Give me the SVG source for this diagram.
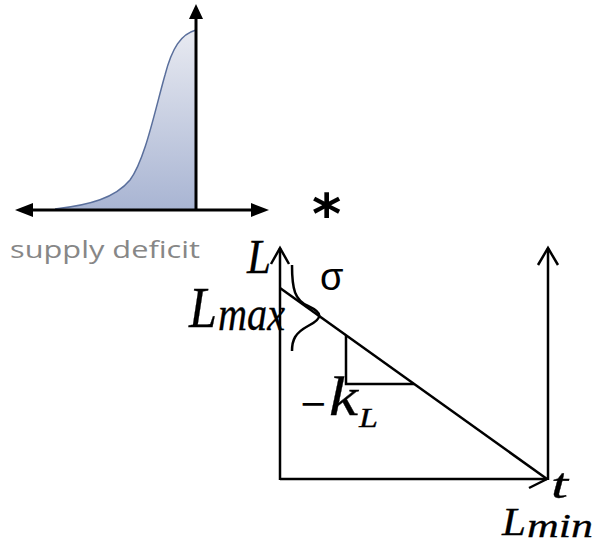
<svg xmlns="http://www.w3.org/2000/svg" width="594" height="545" viewBox="0 0 594 545">
<style>
.ax{stroke:#000;stroke-width:3;fill:none}
.ln{stroke:#000;stroke-width:2.5;fill:none}
.math{font-family:"Liberation Serif",serif;font-style:italic;fill:#000;stroke:#000;stroke-width:0.3}
.sans{font-family:"Liberation Sans",sans-serif;fill:#000}
</style>
<defs>
<linearGradient id="g" x1="0" y1="30" x2="0" y2="209" gradientUnits="userSpaceOnUse">
<stop offset="0" stop-color="#e8eaf1"/>
<stop offset="1" stop-color="#a9b5d3"/>
</linearGradient>
</defs>
<g id="supply-chart">
<path d="M55,209 C90,205 115,198 130,180 C145,160 155,110 165,75 C172,48 181,34 196,30 L196,209 Z" fill="url(#g)" stroke="none"/>
<path d="M55,209 C90,205 115,198 130,180 C145,160 155,110 165,75 C172,48 181,34 196,30" fill="none" stroke="#5a6f9c" stroke-width="1.5"/>
<line class="ax" x1="30" y1="210" x2="254" y2="210"/>
<line class="ax" x1="196" y1="16" x2="196" y2="210"/>
<polygon points="15,210 33,203 33,217" fill="#000"/>
<polygon points="269,210 251,203 251,217" fill="#000"/>
<polygon points="196,4 189,19 203,19" fill="#000"/>
<text x="10" y="258" font-family="'Open Sans',sans-serif" font-size="24" fill="#878787" textLength="190" lengthAdjust="spacingAndGlyphs">supply deficit</text>
</g>
<g id="star">
<text x="312" y="233" font-family="'DejaVu Sans',sans-serif" font-size="56" font-weight="bold" fill="#000">*</text>
</g>
<g id="connectors">
<path class="ln" d="M280,480 L280,248"/>
<path class="ln" d="M271,264 L280,248 L289,264"/>
<path class="ln" d="M548,480 L548,248"/>
<path class="ln" d="M538,265 L548,248 L558,265"/>
<path class="ln" d="M280,479 L547,479"/>
<path class="ln" d="M529,488 L547,479"/>
<path class="ln" d="M280,288 L547,479"/>
<path class="ln" d="M346,335 L346,384 L414,384"/>
<path class="ln" d="M292,265 C292,290 295,300 308,306 C323,313 323,318 308,326 C295,333 292,340 292,351" stroke-width="2"/>
</g>
<g id="labels">
<text class="math" x="247" y="273" font-size="48" textLength="24" lengthAdjust="spacingAndGlyphs">L</text>
<text class="sans" x="320" y="290" font-size="38">σ</text>
<text class="math" x="189" y="327" font-size="58" textLength="28" lengthAdjust="spacingAndGlyphs">L</text>
<text class="math" x="218" y="330" font-size="48" textLength="67" lengthAdjust="spacingAndGlyphs">max</text>
<text x="299" y="415" font-family="'DejaVu Sans',sans-serif" font-size="34" fill="#000">−</text>
<text class="math" x="329" y="415" font-size="54" textLength="29" lengthAdjust="spacingAndGlyphs">k</text>
<text class="math" x="359" y="427" font-size="27" textLength="19" lengthAdjust="spacingAndGlyphs">L</text>
<text class="math" x="551" y="498" font-size="42" textLength="17" lengthAdjust="spacingAndGlyphs">t</text>
<text class="math" x="502" y="535" font-size="41" textLength="24" lengthAdjust="spacingAndGlyphs">L</text>
<text class="math" x="527" y="537" font-size="34" textLength="66" lengthAdjust="spacingAndGlyphs">min</text>
</g>
</svg>
